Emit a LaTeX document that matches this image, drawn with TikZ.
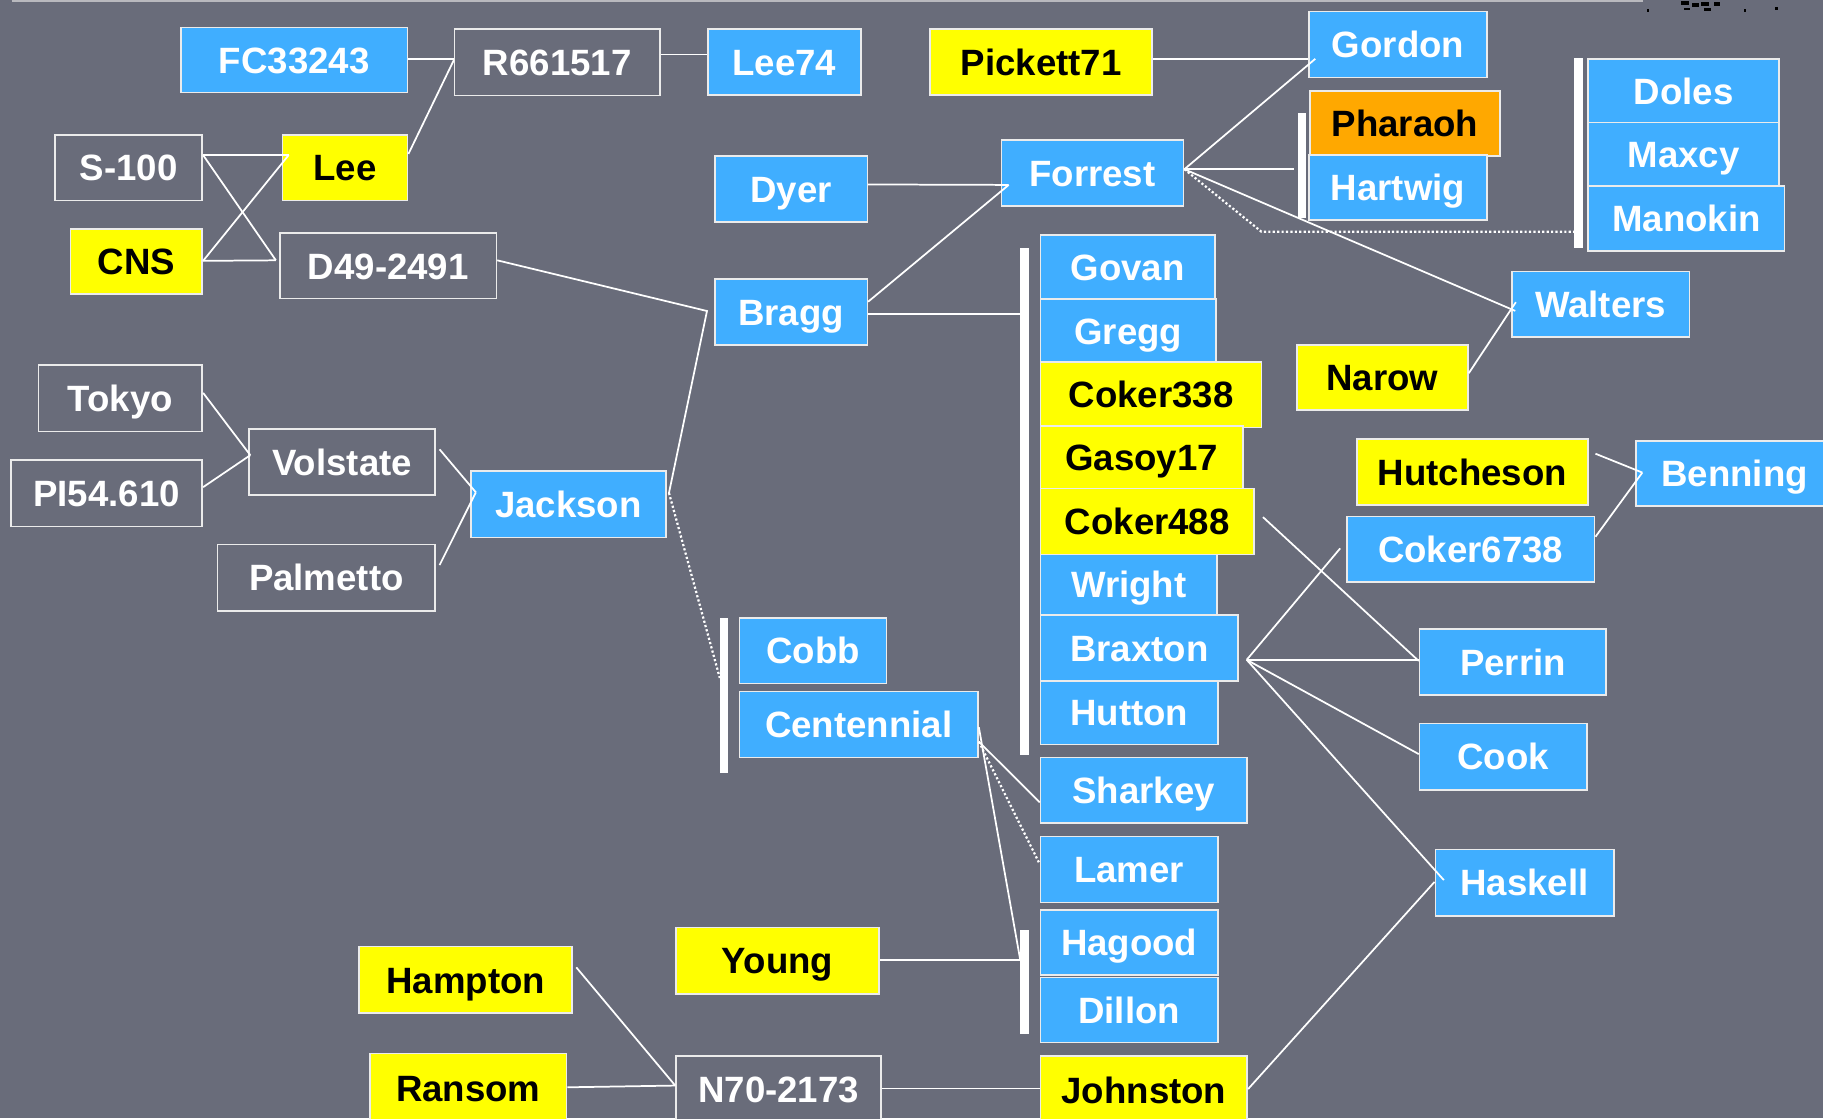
\documentclass[tikz,border=0pt]{standalone}
\usepackage{fontspec}
\setmainfont{Liberation Sans}
\definecolor{bg}{RGB}{105,108,122}
\definecolor{bblue}{RGB}{64,174,255}
\definecolor{byellow}{RGB}{255,255,0}
\definecolor{borange}{RGB}{255,168,0}
\definecolor{edge}{RGB}{235,235,235}
\definecolor{topline}{RGB}{185,185,190}
\newcommand\mybox[7]{\node[#1, minimum width={(#5-#3)*1pt}, minimum height={(#6-#4)*1pt}] (#2) at ({(#3+#5)/2},{(#4+#6)/2}) {#7};}
\newcommand\mybar[4]{\node[barbox, minimum height={(#4-#3)*1pt}] (#1) at (#2,{(#3+#4)/2}) {};}
\begin{document}
\begin{tikzpicture}[x=1pt,y=-1pt,
  base/.style={draw=edge, line width=1.4pt, inner sep=0pt, text height=22.6pt, text depth=0pt, yshift=-0.8pt, font=\fontsize{31.5}{36}\selectfont\bfseries},
  gbox/.style={base, fill=bg, text=white},
  bbox/.style={base, fill=bblue, text=white},
  ybox/.style={base, fill=byellow, text=black},
  obox/.style={base, fill=borange, text=black},
  barbox/.style={fill=white, draw=none, inner sep=0pt, minimum width=7pt},
  link/.style={draw=white, line width=1.5pt},
  dlink/.style={draw=white, line width=1.9pt, dash pattern=on 1.9pt off 1.9pt},
]
\useasboundingbox (0,0) rectangle (1568,962);
\fill[bg] (0,0) rectangle (1568,962);
\draw[topline, line width=1.6pt] (10,0.8) -- (1413,0.8);
\fill[black] (1446,1) rectangle (1453,4.5);
\fill[black] (1455,3) rectangle (1461,6);
\fill[black] (1463,1.5) rectangle (1470,5);
\fill[black] (1448,6.5) rectangle (1454,9);
\fill[black] (1466,7) rectangle (1472,9.5);
\fill[black] (1474,2) rectangle (1479,5.5);
\fill[black] (1416.5,8) rectangle (1418.5,10);
\fill[black] (1500,8) rectangle (1502,10);
\fill[black] (1527,6) rectangle (1529,9);

% grey boxes
\mybox{gbox}{r66}{391}{24.4}{567.5}{81.2}{R661517}
\mybox{gbox}{s100}{47.2}{115.3}{174}{171.5}{S-100}
\mybox{gbox}{d49}{241}{199.8}{427}{256}{D49-2491}
\mybox{gbox}{tokyo}{33}{313.4}{174}{370.4}{Tokyo}
\mybox{gbox}{pi}{9.5}{395}{174}{452}{PI54.610}
\mybox{gbox}{vol}{214}{368}{374.4}{425}{Volstate}
\mybox{gbox}{pal}{187}{467.4}{374.4}{524.7}{Palmetto}
\mybox{gbox}{n70}{581.5}{907.4}{758}{965}{N70-2173}

% blue, yellow, orange boxes
\mybox{bbox}{fc}{155.5}{23}{350.6}{78.9}{FC33243}
\mybox{bbox}{lee74}{609}{24.4}{740.3}{81}{Lee74}
\mybox{ybox}{pickett}{800}{24.4}{991}{81}{Pickett71}
\mybox{bbox}{gordon}{1126}{9.2}{1279}{66}{Gordon}
\mybox{obox}{pharaoh}{1127}{77.4}{1290}{133.3}{Pharaoh}
\mybox{bbox}{hartwig}{1126}{132.5}{1279}{188.4}{Hartwig}
\mybox{bbox}{doles}{1366}{50.2}{1530}{104.7}{Doles}
\mybox{bbox}{maxcy}{1366}{104.7}{1530}{159.1}{Maxcy}
\mybox{bbox}{manokin}{1366}{159.1}{1535}{215}{Manokin}
\mybox{ybox}{lee}{243}{115.3}{350.6}{171.5}{Lee}
\mybox{ybox}{cns}{60.7}{196.4}{174}{252.3}{CNS}
\mybox{bbox}{dyer}{614.8}{133.3}{746}{190}{Dyer}
\mybox{bbox}{forrest}{861.3}{119.8}{1018}{176.3}{Forrest}
\mybox{bbox}{bragg}{614.8}{239}{746}{296}{Bragg}
\mybox{bbox}{govan}{895}{201.3}{1044.8}{257.5}{Govan}
\mybox{bbox}{gregg}{895}{256.6}{1046}{312}{Gregg}
\mybox{ybox}{coker338}{895}{310.5}{1085}{367}{Coker338}
\mybox{ybox}{gasoy}{895}{365.5}{1069}{419.5}{Gasoy17}
\mybox{ybox}{coker488}{895}{419.5}{1078.6}{476}{Coker488}
\mybox{bbox}{wright}{895}{476}{1046.8}{528.4}{Wright}
\mybox{bbox}{braxton}{895}{528}{1065}{585}{Braxton}
\mybox{bbox}{hutton}{895}{585}{1047.6}{639.4}{Hutton}
\mybox{bbox}{sharkey}{895}{650.8}{1072.4}{707.3}{Sharkey}
\mybox{bbox}{lamer}{895}{718.8}{1047.4}{775.6}{Lamer}
\mybox{bbox}{hagood}{895}{782}{1047.4}{837.8}{Hagood}
\mybox{bbox}{dillon}{895}{840}{1047.4}{896}{Dillon}
\mybox{ybox}{johnston}{895}{907.4}{1072.8}{966}{Johnston}
\mybox{bbox}{walters}{1300.5}{232.8}{1453}{289}{Walters}
\mybox{ybox}{narow}{1115.4}{296}{1262.6}{352}{Narow}
\mybox{ybox}{hutch}{1167}{377}{1366}{433.5}{Hutcheson}
\mybox{bbox}{benning}{1407.3}{378.5}{1576.7}{434.4}{Benning}
\mybox{bbox}{coker6738}{1158.4}{443.5}{1371.6}{499.8}{Coker6738}
\mybox{bbox}{perrin}{1221}{540}{1381.6}{597}{Perrin}
\mybox{bbox}{cook}{1221}{621.6}{1365}{678.6}{Cook}
\mybox{bbox}{haskell}{1234.6}{730}{1388}{787}{Haskell}
\mybox{bbox}{jackson}{405}{404.3}{572.7}{461.6}{Jackson}
\mybox{bbox}{cobb}{636}{531}{762.6}{587}{Cobb}
\mybox{bbox}{cent}{636}{594}{841.2}{650.8}{Centennial}
\mybox{ybox}{young}{581.5}{797}{756}{854}{Young}
\mybox{ybox}{hampton}{309}{813.4}{492}{870.7}{Hampton}
\mybox{ybox}{ransom}{318.3}{905.4}{487.3}{965}{Ransom}

% bars
\mybar{barPh}{1119.5}{97.5}{187.9}
\mybar{barD}{1357.7}{50}{213.6}
\mybar{barG}{881.2}{213.5}{649.4}
\mybar{barCobb}{622.8}{531.6}{664.6}
\mybar{barHD}{881.2}{800}{889}

% junctions
\coordinate (jLee) at ([xshift=6pt,yshift=10.8pt]lee.west);
\coordinate (jD49) at ([xshift=-3pt,yshift=4.8pt]d49.west);
\coordinate (jGor) at ([xshift=6pt,yshift=-12.2pt]gordon.west);
\coordinate (jForR) at ([yshift=3.3pt]forrest.east);
\coordinate (jForL) at ([xshift=7pt,yshift=-10.2pt]forrest.west);
\coordinate (jDot) at (1085,199.3);
\coordinate (jBragg) at ([xshift=-6pt,yshift=0.8pt]bragg.west);
\coordinate (jJack) at ([xshift=2pt,yshift=9.8pt]jackson.east);
\coordinate (jJackL) at ([xshift=5pt,yshift=10.3pt]jackson.west);
\coordinate (jVol) at ([xshift=2pt,yshift=5.8pt]vol.west);
\coordinate (jHD) at ([yshift=19pt]barHD.west);
\coordinate (jN70) at ([yshift=3.3pt]n70.west);
\coordinate (jBrx) at ([xshift=6.6pt,yshift=-10.2pt]braxton.east);
\coordinate (jBen) at ([xshift=6pt,yshift=0.8pt]benning.west);

% connectors
\draw[link] ([yshift=10.8pt]s100.east) -- (jLee);
\draw[link] ([yshift=10.8pt]s100.east) -- (jD49);
\draw[link] ([yshift=0.8pt]cns.east) -- (jLee);
\draw[link] ([yshift=0.8pt]cns.east) -- (jD49);
\draw[link] ([yshift=0.8pt]fc.east) -- ([yshift=0.8pt]fc.east -| r66.west);
\draw[link] ([yshift=11.8pt]lee.east) -- ([yshift=1.8pt]r66.west);
\draw[link] ([yshift=6.8pt]r66.east) -- ([yshift=6.8pt]r66.east -| lee74.west);
\draw[link] ([yshift=2.8pt]pickett.east) -- ([yshift=2.8pt]pickett.east -| gordon.west);
\draw[link] (jForR) -- (jGor);
\draw[link] (jForR) -- ([xshift=-3pt]jForR -| barPh.west);
\draw[link] (jForR) -- ([xshift=3.5pt,yshift=-5.7pt]walters.west);
\draw[link] ([yshift=3.8pt]narow.east) -- ([xshift=4pt,yshift=1.8pt]walters.west);
\draw[dlink] (jForR) -- (jDot) -- (jDot -| barD.west);
\draw[link] ([yshift=3.8pt]dyer.east) -- (jForL);
\draw[link] ([yshift=8.8pt]bragg.east) -- (jForL);
\draw[link] ([yshift=-1.7pt]bragg.east) -- ([yshift=-1.7pt]bragg.east -| barG.west);
\draw[link] ([yshift=4.8pt]d49.east) -- (jBragg) -- (jJack);
\draw[dlink] (jJack) -- ([yshift=15pt]barCobb.west);
\draw[link] ([xshift=3pt,yshift=10.8pt]vol.east) -- (jJackL);
\draw[link] ([xshift=3pt,yshift=10.8pt]pal.east) -- (jJackL);
\draw[link] ([yshift=4.8pt]tokyo.east) -- (jVol);
\draw[link] ([yshift=5.3pt]pi.east) -- (jVol);
\draw[link] ([yshift=-14.7pt]cent.east) -- ([yshift=-10.2pt]sharkey.west);
\draw[dlink] ([yshift=-14.7pt]cent.east) -- ([yshift=4.8pt]lamer.west);
\draw[link] ([yshift=-2.2pt]cent.east) -- (jHD);
\draw[link] ([yshift=0.8pt]young.east) -- (jHD);
\draw[link] ([xshift=3pt,yshift=10.8pt]hampton.east) -- (jN70);
\draw[link] ([yshift=0.8pt]ransom.east) -- (jN70);
\draw[link] ([yshift=0.8pt]n70.east) -- ([yshift=0.8pt]n70.east -| johnston.west);
\draw[link] ([yshift=0.8pt]johnston.east) -- ([yshift=0.8pt]haskell.west);
\draw[link] (jBrx) -- ([xshift=-5pt,yshift=0.8pt]coker6738.west);
\draw[link] (jBrx) -- (jBrx -| perrin.west);
\draw[link] (jBrx) -- ([yshift=2.3pt]cook.west);
\draw[link] (jBrx) -- ([xshift=8pt,yshift=2.3pt]haskell.west);
\draw[link] ([xshift=7pt,yshift=3.8pt]coker488.east) -- ([yshift=0.8pt]perrin.west);
\draw[link] ([xshift=5.6pt,yshift=15.8pt]hutch.east) -- (jBen);
\draw[link] ([yshift=10.8pt]coker6738.east) -- (jBen);
\end{tikzpicture}
\end{document}
